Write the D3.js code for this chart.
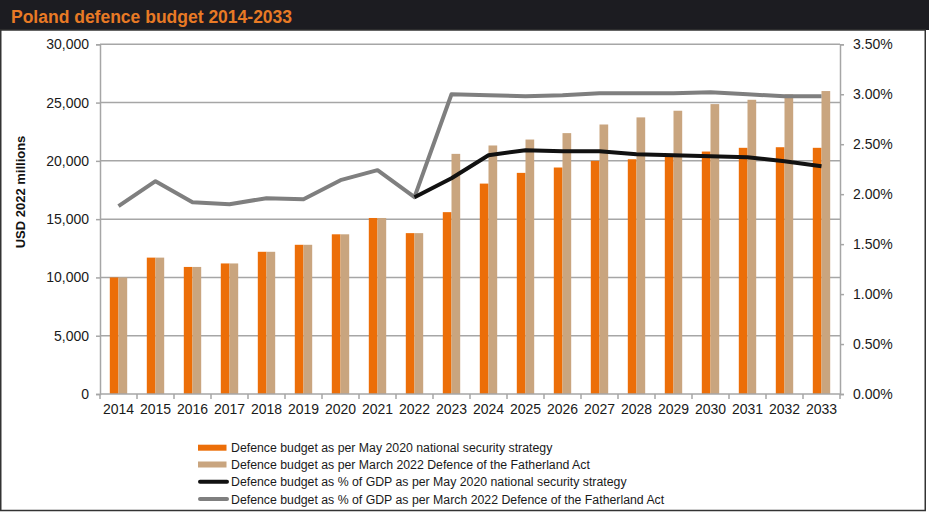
<!DOCTYPE html>
<html><head><meta charset="utf-8">
<script src="https://cdn.jsdelivr.net/npm/d3@7"></script>
<style>
html,body{margin:0;padding:0;background:#fff;}
svg{display:block;font-family:"Liberation Sans",Arial,sans-serif;}
</style></head>
<body><svg id="c" width="929" height="512"></svg>
<script>
const years = ["2014","2015","2016","2017","2018","2019","2020","2021","2022","2023","2024","2025","2026","2027","2028","2029","2030","2031","2032","2033"];
const budget2020 = [10000,11700,10900,11200,12200,12800,13700,15100,13800,15600,18050,18970,19430,20000,20140,20400,20800,21120,21170,21120];
const budget2022 = [10000,11700,10900,11200,12200,12800,13700,15100,13800,20600,21320,21830,22380,23120,23730,24300,24870,25240,25700,25990];
const gdp2020 = [null,null,null,null,null,null,null,null,1.97,2.16,2.39,2.44,2.43,2.43,2.40,2.39,2.38,2.37,2.33,2.28];
const gdp2022 = [1.88,2.13,1.92,1.90,1.96,1.95,2.14,2.24,1.97,3.00,2.99,2.98,2.99,3.01,3.01,3.01,3.02,3.00,2.98,2.98];
const leftTicks = [0,5000,10000,15000,20000,25000,30000];
const rightTicks = [0,0.5,1,1.5,2,2.5,3,3.5];
const legendLabels = [
  "Defence budget as per May 2020 national security strategy",
  "Defence budget as per March 2022 Defence of the Fatherland Act",
  "Defence budget as % of GDP as per May 2020 national security strategy",
  "Defence budget as % of GDP as per March 2022 Defence of the Fatherland Act"
];
const title = "Poland defence budget 2014-2033";
const yTitle = "USD 2022 millions";

const C = {orange:"#EC6E08", tan:"#C9A57F", black:"#111111", gray:"#7F7F7F", grid:"#A6A6A6", text:"#1a1a1a"};
const svg = d3.select("#c");
const W = 929, H = 512;
const L = 100, R = 840, T = 44.3, B = 394;

svg.append("rect").attr("width",W).attr("height",H).attr("fill","#fff");
svg.append("rect").attr("x",0).attr("y",0).attr("width",W).attr("height",30).attr("fill","#1c1c21");
svg.append("rect").attr("x",0.75).attr("y",30).attr("width",924.5).attr("height",480.5)
  .attr("fill","none").attr("stroke","#333").attr("stroke-width",1.5);
svg.append("text").attr("x",11).attr("y",22.5).attr("fill","#E87A25")
  .attr("font-size",17.5).attr("font-weight","bold").text(title);

const x = d3.scaleBand().domain(years).range([L,R]).paddingInner(0.53).paddingOuter(0.265);
const x1 = d3.scaleBand().domain(["a","b"]).range([0,x.bandwidth()]);
const y = d3.scaleLinear().domain([0,30000]).range([B,T]);
const y2 = d3.scaleLinear().domain([0,3.5]).range([B,T]);

// gridlines
svg.append("g").selectAll("line").data(leftTicks.filter(d=>d>0)).join("line")
  .attr("x1",L).attr("x2",R).attr("y1",d=>y(d)).attr("y2",d=>y(d))
  .attr("stroke",C.grid).attr("stroke-width",1.5);

// bars
const bars = svg.append("g");
bars.selectAll(".o").data(years).join("rect")
  .attr("x",d=>x(d)+x1("a")).attr("width",x1.bandwidth())
  .attr("y",(d,i)=>y(budget2020[i])).attr("height",(d,i)=>B-y(budget2020[i]))
  .attr("fill",C.orange);
bars.selectAll(".t").data(years).join("rect")
  .attr("x",d=>x(d)+x1("b")).attr("width",x1.bandwidth())
  .attr("y",(d,i)=>y(budget2022[i])).attr("height",(d,i)=>B-y(budget2022[i]))
  .attr("fill",C.tan);

// axes
const fmt = d3.format(",");
const la = svg.append("g").attr("transform",`translate(${L},0)`)
  .call(d3.axisLeft(y).tickValues(leftTicks).tickFormat(fmt).tickSize(4).tickPadding(7));
const ra = svg.append("g").attr("transform",`translate(${R},0)`)
  .call(d3.axisRight(y2).tickValues(rightTicks).tickFormat(d=>d.toFixed(2)+"%").tickSize(4).tickPadding(9));
const ba = svg.append("g").attr("transform",`translate(0,${B})`)
  .call(d3.axisBottom(x).tickSize(0).tickPadding(10));
[la,ra,ba].forEach(g=>{
  g.select(".domain").attr("stroke",C.grid).attr("stroke-width",1.5);
  g.selectAll(".tick line").attr("stroke",C.grid).attr("stroke-width",1.5);
  g.selectAll("text").attr("font-size",14).attr("fill",C.text).attr("font-family","Liberation Sans, Arial, sans-serif");
});
ba.select(".domain").attr("d",`M${L},0H${R}`);
// category boundary ticks
const bounds = years.map(d=>x(d)-x.step()*x.paddingInner()/2).concat([R]);
svg.append("g").selectAll("line").data(bounds).join("line")
  .attr("x1",d=>d).attr("x2",d=>d).attr("y1",B).attr("y2",B+5)
  .attr("stroke",C.grid).attr("stroke-width",1.5);

// y title
svg.append("text").attr("transform","translate(25,192) rotate(-90)")
  .attr("text-anchor","middle").attr("font-size",13).attr("font-weight","bold")
  .attr("fill","#111").text(yTitle);

// lines
const cx = d=>x(d)+x.bandwidth()/2;
const line = arr => d3.line().defined((d,i)=>arr[i]!=null).x(d=>cx(d)).y((d,i)=>y2(arr[i]));
svg.append("path").datum(years).attr("d",line(gdp2022)).attr("fill","none")
  .attr("stroke",C.gray).attr("stroke-width",4).attr("stroke-linejoin","round");
svg.append("path").datum(years).attr("d",line(gdp2020)).attr("fill","none")
  .attr("stroke",C.black).attr("stroke-width",4).attr("stroke-linejoin","round");

// legend
const lg = svg.append("g");
const rows = [447.7,464.5,481.7,499];
const kinds = [["rect",C.orange],["rect",C.tan],["line",C.black],["line",C.gray]];
kinds.forEach((k,i)=>{
  if(k[0]==="rect"){
    lg.append("rect").attr("x",198).attr("y",rows[i]-3).attr("width",28.5).attr("height",6).attr("fill",k[1]);
  } else {
    lg.append("line").attr("x1",200).attr("x2",227).attr("y1",rows[i]).attr("y2",rows[i])
      .attr("stroke",k[1]).attr("stroke-width",4).attr("stroke-linecap","round");
  }
  lg.append("text").attr("x",231).attr("y",rows[i]+4.5).attr("font-size",12.3)
    .attr("fill",C.text).text(legendLabels[i]);
});
</script></body></html>
